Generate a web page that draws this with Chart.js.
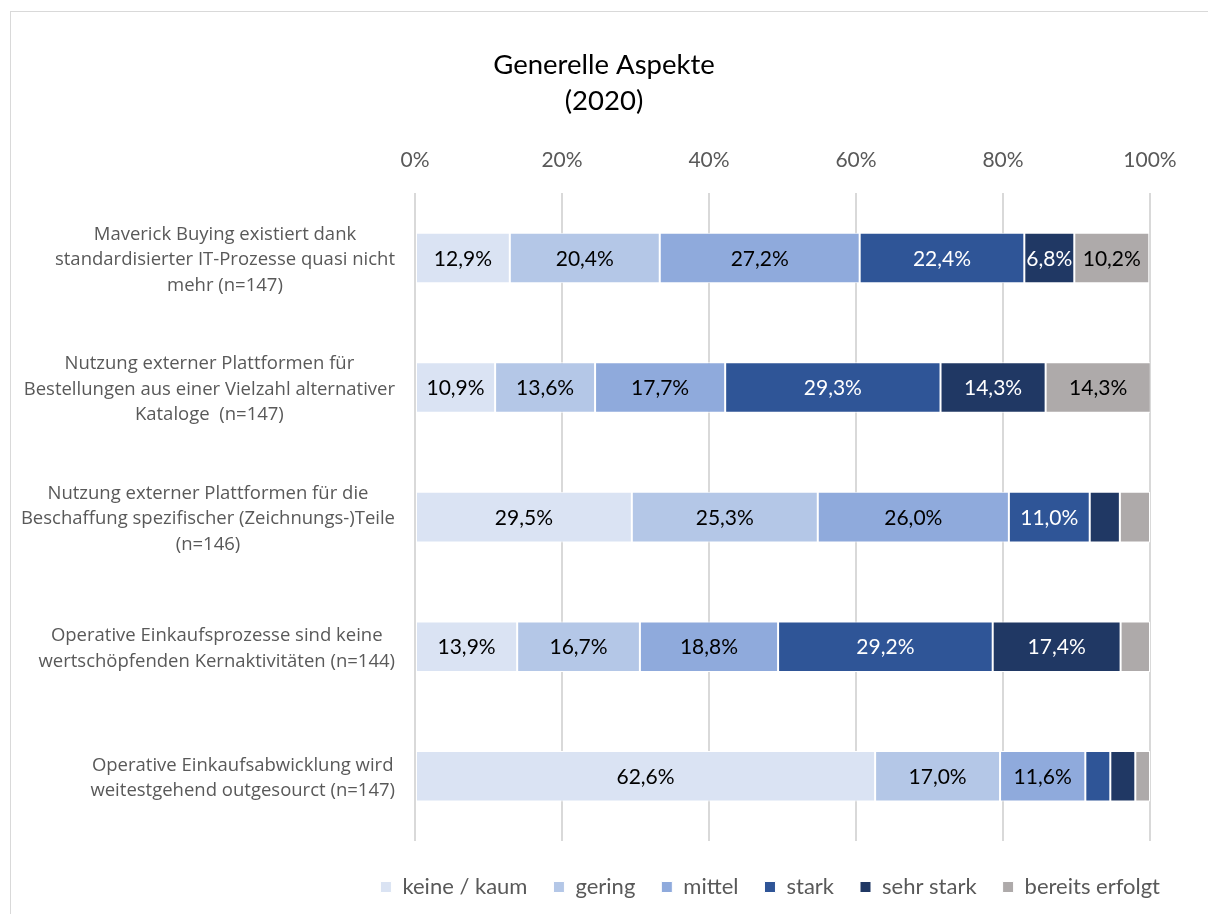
<!DOCTYPE html>
<html lang="de">
<head>
<meta charset="utf-8">
<title>Generelle Aspekte (2020)</title>
<script src="https://cdn.jsdelivr.net/npm/chart.js@4.4.1/dist/chart.umd.min.js"></script>
<style>
  html, body { margin: 0; padding: 0; background: #fff; overflow: hidden; }
  #frame { position: absolute; left: 10px; top: 11px; width: 1400px; height: 1200px; border: 1px solid #d9d9d9; }
  #wrap { position: absolute; left: 0; top: 0; width: 1208px; height: 914px; }
</style>
</head>
<body>
<div id="frame"></div>
<div id="wrap"><canvas id="aspekteChart"></canvas></div>
<script>
// --- Daten ---
const categories = [
    ['Maverick Buying existiert dank', 'standardisierter IT-Prozesse quasi nicht', 'mehr (n=147)'],
    ['Nutzung externer Plattformen für', 'Bestellungen aus einer Vielzahl alternativer', 'Kataloge  (n=147)'],
    ['Nutzung externer Plattformen für die', 'Beschaffung spezifischer (Zeichnungs-)Teile', '(n=146)'],
    ['Operative Einkaufsprozesse sind keine', 'wertschöpfenden Kernaktivitäten (n=144)'],
    ['Operative Einkaufsabwicklung wird', 'weitestgehend outgesourct (n=147)']
];
const seriesNames = ['keine / kaum', 'gering', 'mittel', 'stark', 'sehr stark', 'bereits erfolgt'];
const keineKaum      = [12.9, 10.9, 29.5, 13.9, 62.6];
const gering         = [20.4, 13.6, 25.3, 16.7, 17.0];
const mittel         = [27.2, 17.7, 26.0, 18.8, 11.6];
const stark          = [22.4, 29.3, 11.0, 29.2, 3.4];
const sehrStark      = [6.8, 14.3, 4.1, 17.4, 3.4];
const bereitsErfolgt = [10.2, 14.3, 4.1, 4.0, 2.0];
const xTicks = [0, 20, 40, 60, 80, 100];

const seriesValues = [keineKaum, gering, mittel, stark, sehrStark, bereitsErfolgt];
const barColors  = ['#dae3f3', '#b4c7e7', '#8faadc', '#2f5597', '#203864', '#aeaaaa'];
const textColors = ['#000000', '#000000', '#000000', '#ffffff', '#ffffff', '#000000'];

const FONT_MAIN = "Lato, 'Noto Sans', sans-serif";
const FONT_LABEL = "'Open Sans', 'Noto Sans', sans-serif";

// Prozentwerte in die Balken schreiben (nur wenn genug Platz)
const segmentLabels = {
    id: 'segmentLabels',
    afterDatasetsDraw(chart) {
        const { ctx } = chart;
        ctx.save();
        ctx.font = `21px ${FONT_MAIN}`;
        ctx.textAlign = 'center';
        ctx.textBaseline = 'middle';
        chart.data.datasets.forEach((ds, i) => {
            const meta = chart.getDatasetMeta(i);
            meta.data.forEach((bar, j) => {
                const v = ds.data[j];
                if (v < 5) return;
                ctx.fillStyle = textColors[i];
                ctx.fillText(v.toFixed(1).replace('.', ',') + '%', (bar.x + bar.base) / 2, bar.y + 1);
            });
        });
        ctx.restore();
    }
};

// Kategorienamen links: Block rechtsbündig, Zeilen darin zentriert
const categoryLabels = {
    id: 'categoryLabels',
    afterDraw(chart) {
        const { ctx, chartArea } = chart;
        const yScale = chart.scales.y;
        const lineH = 25.5;
        ctx.save();
        ctx.font = `18.5px ${FONT_LABEL}`;
        ctx.fillStyle = '#595959';
        ctx.textAlign = 'center';
        ctx.textBaseline = 'middle';
        categories.forEach((lines, i) => {
            const blockW = Math.max(...lines.map(l => ctx.measureText(l).width));
            const cx = chartArea.left - 20 - blockW / 2;
            const cy = yScale.getPixelForValue(i) + 2;
            const top = cy - (lines.length - 1) * lineH / 2;
            lines.forEach((l, k) => ctx.fillText(l, cx, top + k * lineH));
        });
        ctx.restore();
    }
};

const ctx = document.getElementById('aspekteChart').getContext('2d');
const aspekteChart = new Chart(ctx, {
    type: 'bar',
    data: {
        labels: categories.map(c => c.join(' ')),
        datasets: seriesNames.map((name, i) => ({
            label: name,
            data: seriesValues[i],
            backgroundColor: barColors[i],
            borderColor: '#ffffff',
            borderWidth: 1,
            borderSkipped: false,
            barPercentage: 0.39,
            categoryPercentage: 1.0
        }))
    },
    options: {
        indexAxis: 'y',
        responsive: true,
        maintainAspectRatio: false,
        animation: false,
        layout: { padding: { left: 22, right: 22, top: 0, bottom: 6 } },
        plugins: {
            title: {
                display: true,
                text: ['Generelle Aspekte', '(2020)'],
                color: '#000000',
                font: { family: FONT_MAIN, size: 27.5, weight: 'normal', lineHeight: 1.31 },
                padding: { top: 47, bottom: 9 }
            },
            legend: {
                position: 'bottom',
                align: 'end',
                labels: {
                    color: '#595959',
                    font: { family: FONT_MAIN, size: 22 },
                    boxWidth: 11,
                    boxHeight: 11,
                    padding: 26
                }
            },
            tooltip: { enabled: false }
        },
        scales: {
            x: {
                position: 'top',
                stacked: true,
                min: 0,
                max: 100,
                afterBuildTicks: s => { s.ticks = xTicks.map(v => ({ value: v })); },
                grid: { color: '#d9d9d9', lineWidth: 2, drawTicks: false },
                border: { display: false },
                ticks: {
                    color: '#595959',
                    padding: 20,
                    font: { family: FONT_MAIN, size: 21 },
                    callback: v => v + '%'
                }
            },
            // Abstand zwischen Plotfläche und Legende
            xGap: {
                position: 'bottom',
                grid: { display: false },
                border: { display: false },
                ticks: { display: false },
                afterFit: s => { s.height = 9; }
            },
            y: {
                stacked: true,
                grid: { display: false },
                border: { display: false },
                ticks: { display: false },
                afterFit: s => { s.width = 393; }
            },
            // rechter Rand der Plotfläche
            yGap: {
                position: 'right',
                grid: { display: false },
                border: { display: false },
                ticks: { display: false },
                afterFit: s => { s.width = 36; }
            }
        }
    },
    plugins: [segmentLabels, categoryLabels]
});
</script>
</body>
</html>
